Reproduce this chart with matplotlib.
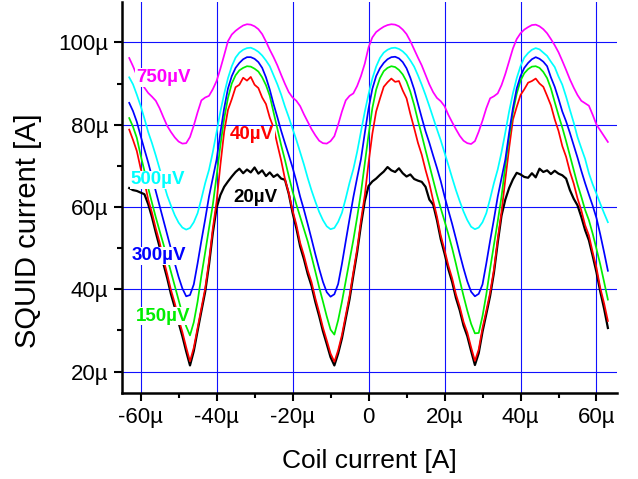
import numpy as np
import matplotlib
matplotlib.use("Agg")
import matplotlib.pyplot as plt
import matplotlib.ticker as mtick

plt.rcParams["font.family"] = ["Liberation Sans", "DejaVu Sans"]

# coil current sweep (uA)
coil_current = np.arange(-63, 64, 1.0)

# SQUID current (uA) for each bias voltage
squid_750 = [
    96.2, 94.2, 92.0, 90.4, 89.0, 87.7, 86.8, 85.8, 84.0, 81.8, 79.7, 78.2, 76.9, 75.9, 75.4, 75.5,
    77.0, 79.8, 83.0, 85.9, 86.6, 87.0, 88.6, 90.6, 93.6, 96.9, 100.3, 101.9, 102.8, 103.5, 104.1, 104.4,
    104.3, 103.9, 103.2, 102.0, 100.2, 98.2, 96.4, 94.4, 92.1, 89.9, 87.9, 86.6, 85.8, 84.5, 82.5, 80.7,
    78.9, 77.4, 76.1, 75.5, 75.4, 76.0, 77.2, 80.0, 83.2, 85.9, 87.0, 87.6, 89.4, 91.8, 94.8, 98.8,
    101.2, 102.5, 103.2, 103.8, 104.2, 104.4, 104.3, 103.9, 103.1, 102.0, 100.3, 98.3, 96.3, 94.4, 92.1, 89.8,
    87.9, 86.5, 85.7, 84.5, 82.4, 80.6, 78.9, 77.3, 76.1, 75.5, 75.3, 76.0, 78.3, 81.0, 84.0, 86.4,
    86.9, 87.6, 89.6, 92.3, 95.4, 98.5, 100.8, 102.2, 103.1, 103.7, 104.2, 104.3, 103.9, 103.2, 102.2, 100.8,
    99.3, 97.6, 95.5, 93.3, 91.0, 89.0, 87.2, 85.8, 85.2, 84.6, 82.4, 80.0, 78.6, 77.2, 75.8,
]
squid_500 = [
    91.5, 89.8, 87.3, 84.6, 81.5, 78.2, 75.5, 72.5, 69.3, 66.0, 62.8, 60.3, 58.0, 56.2, 55.0, 54.5,
    54.9, 56.3, 58.5, 62.0, 65.8, 69.0, 73.3, 78.2, 83.2, 87.5, 91.3, 94.2, 96.3, 97.5, 98.2, 98.6,
    98.7, 98.3, 97.7, 96.8, 95.6, 94.2, 92.0, 89.8, 87.3, 84.4, 81.8, 79.0, 76.3, 73.3, 70.3, 67.0,
    64.0, 61.3, 58.8, 56.8, 55.3, 54.6, 54.9, 56.4, 58.6, 62.1, 65.9, 69.2, 73.4, 78.3, 83.1, 87.4,
    91.2, 94.1, 96.2, 97.5, 98.2, 98.6, 98.7, 98.4, 97.8, 96.9, 95.6, 94.1, 92.0, 89.7, 87.2, 84.5,
    81.7, 78.9, 76.2, 73.2, 70.2, 67.1, 64.1, 61.4, 58.9, 56.8, 55.2, 54.6, 55.0, 56.3, 58.5, 62.0,
    65.8, 69.1, 73.3, 78.1, 83.2, 87.6, 91.3, 94.2, 96.3, 97.4, 98.2, 98.6, 98.3, 97.5, 96.7, 95.3,
    94.0, 91.7, 89.7, 86.8, 83.6, 80.5, 77.0, 74.3, 71.7, 68.2, 65.5, 63.2, 60.8, 58.5, 56.3,
]
squid_300 = [
    85.3, 83.3, 80.7, 77.3, 74.0, 70.8, 67.3, 63.8, 60.3, 56.8, 53.3, 49.8, 46.3, 43.0, 40.2, 38.3,
    38.6, 41.2, 46.3, 51.8, 57.0, 62.5, 67.0, 71.5, 78.0, 84.0, 88.8, 91.8, 93.8, 95.0, 95.9, 96.4,
    96.4, 96.0, 95.2, 93.8, 91.5, 88.5, 85.0, 81.8, 78.5, 75.5, 72.6, 69.6, 66.2, 62.5, 59.3, 55.8,
    52.2, 48.5, 45.0, 41.8, 39.3, 38.2, 38.8, 41.3, 46.2, 51.7, 57.1, 62.4, 67.1, 71.6, 77.9, 83.9,
    88.7, 91.8, 93.7, 95.0, 95.9, 96.4, 96.5, 96.1, 95.2, 93.7, 91.4, 88.6, 85.1, 81.7, 78.4, 75.6,
    72.5, 69.5, 66.3, 62.6, 59.2, 55.9, 52.3, 48.6, 45.1, 41.9, 39.4, 38.3, 38.9, 41.2, 46.3, 51.8,
    57.0, 62.5, 67.0, 71.5, 78.0, 84.0, 88.8, 91.8, 93.8, 95.0, 95.9, 96.4, 96.0, 95.3, 94.2, 91.5,
    89.2, 86.3, 83.2, 80.8, 78.0, 75.0, 72.0, 68.8, 65.8, 63.0, 60.3, 57.3, 53.3, 49.0, 44.5,
]
squid_150 = [
    81.6, 79.5, 76.8, 72.6, 68.8, 64.6, 61.0, 57.5, 54.2, 51.0, 47.6, 44.2, 40.8, 37.4, 34.0, 31.0,
    28.8, 32.0, 37.0, 43.3, 49.0, 54.8, 60.5, 67.5, 75.0, 81.5, 86.5, 90.0, 92.0, 93.2, 93.8, 94.2,
    94.1, 93.6, 92.9, 91.5, 89.6, 87.0, 83.0, 79.0, 75.0, 71.4, 67.5, 63.8, 60.6, 57.6, 54.6, 51.6,
    48.0, 44.3, 40.5, 37.0, 33.4, 30.2, 29.0, 32.5, 37.0, 42.0, 47.0, 52.0, 57.5, 63.5, 70.5, 77.5,
    84.0, 88.5, 91.3, 93.0, 93.8, 94.2, 94.0, 93.3, 92.2, 90.5, 88.0, 84.8, 81.0, 77.5, 73.8, 70.2,
    66.6, 63.0, 59.7, 56.6, 53.4, 50.0, 46.2, 42.2, 38.4, 34.8, 31.6, 29.3, 29.4, 33.5, 38.8, 45.0,
    50.8, 56.5, 62.5, 70.0, 77.0, 83.0, 87.5, 90.7, 92.5, 93.5, 94.1, 94.2, 93.8, 92.8, 91.3, 88.8,
    85.5, 82.3, 79.3, 76.0, 72.5, 69.0, 65.5, 62.5, 59.3, 56.8, 53.5, 49.8, 46.0, 41.8, 37.5,
]
squid_40 = [
    78.8, 76.3, 73.6, 69.4, 66.2, 61.8, 58.6, 54.8, 51.4, 47.3, 43.7, 39.8, 36.6, 32.8, 29.6, 25.9,
    22.5, 25.8, 30.6, 35.4, 40.2, 46.8, 54.7, 61.3, 70.2, 78.3, 83.6, 86.2, 89.1, 89.7, 91.4, 90.7,
    91.6, 89.7, 88.9, 86.6, 85.0, 81.7, 79.3, 75.2, 71.3, 66.8, 63.4, 59.2, 55.7, 51.3, 48.2, 44.6,
    41.7, 37.8, 34.4, 30.7, 27.6, 24.4, 22.4, 25.2, 28.9, 33.7, 38.4, 44.2, 49.8, 56.7, 62.8, 70.7,
    77.8, 83.2, 86.3, 89.2, 90.3, 91.2, 90.4, 90.6, 88.3, 86.4, 82.6, 79.2, 75.6, 72.7, 69.0, 65.7,
    61.6, 57.7, 53.1, 49.6, 45.8, 42.7, 38.8, 35.8, 32.1, 29.5, 25.9, 22.6, 25.4, 30.6, 34.8, 39.2,
    44.8, 52.2, 58.8, 66.7, 74.3, 81.2, 84.3, 87.2, 88.6, 90.2, 90.6, 91.2, 90.0, 89.2, 87.0, 84.7,
    81.3, 78.5, 74.8, 72.2, 68.6, 65.7, 62.1, 59.2, 55.6, 53.1, 49.0, 45.2, 40.3, 36.6, 32.3,
]
squid_20 = [
    64.6, 64.1, 63.9, 63.5, 63.1, 60.7, 57.5, 53.8, 50.3, 46.2, 42.7, 38.8, 35.6, 31.9, 28.6, 24.9,
    21.5, 25.0, 29.9, 34.7, 39.4, 45.9, 53.6, 59.8, 62.9, 64.9, 66.2, 67.4, 68.5, 69.3, 68.2, 69.1,
    68.4, 69.6, 68.1, 68.9, 67.5, 68.4, 67.3, 67.9, 66.9, 66.6, 63.2, 58.6, 54.8, 50.4, 47.3, 43.7,
    40.8, 36.9, 33.5, 29.8, 26.7, 23.5, 21.5, 24.4, 28.1, 32.9, 37.6, 43.4, 49.0, 55.6, 61.4, 65.1,
    66.2, 66.9, 67.8, 68.6, 69.7, 68.9, 68.5, 69.4, 68.2, 67.4, 67.9, 66.8, 66.4, 66.1, 64.9, 61.8,
    60.6, 56.8, 52.2, 48.7, 44.9, 41.8, 37.9, 34.9, 31.2, 28.6, 25.0, 21.6, 24.5, 29.7, 34.0, 38.4,
    44.0, 51.3, 57.9, 61.8, 64.6, 66.7, 68.3, 67.9, 67.3, 67.1, 68.2, 67.2, 69.3, 68.5, 68.9, 68.0,
    68.8, 68.1, 67.7, 66.9, 64.1, 62.0, 60.4, 57.6, 54.4, 51.9, 48.1, 44.1, 39.4, 35.3, 30.6,
]

bias_labels = ["750µV", "500µV", "300µV", "150µV", "40µV", "20µV"]
curve_colors = ["#ff00ff", "#00ffff", "#0000ff", "#00ee00", "#ff0000", "#000000"]
label_x = [-54.1, -55.4, -55.3, -54.1, -30.7, -29.9]
label_y = [91.5, 66.6, 48.1, 33.5, 77.5, 62.2]

all_curves = [squid_750, squid_500, squid_300, squid_150, squid_40, squid_20]


def micro_label(v, pos):
    if abs(v) < 1e-9:
        return "0"
    return "%dµ" % int(round(v))


fig = plt.figure(figsize=(6.38, 4.79), dpi=100)
ax = fig.add_axes([0.1912, 0.1795, 0.7759, 0.8163])

# draw lowest bias first so the higher ones sit on top
for i in range(len(all_curves) - 1, -1, -1):
    lw = 1.6 if i == 5 else 1.25
    ax.plot(coil_current, all_curves[i], color=curve_colors[i], linewidth=lw)

for i in range(len(bias_labels)):
    ax.text(label_x[i], label_y[i], bias_labels[i], color=curve_colors[i], fontsize=13.5,
            fontweight="bold", ha="center", va="center", zorder=5,
            bbox=dict(facecolor="white", edgecolor="none", pad=0.6))

ax.set_xlim(-64.9, 65.4)
ax.set_ylim(14.8, 109.8)

ax.xaxis.set_major_locator(mtick.MultipleLocator(20))
ax.xaxis.set_minor_locator(mtick.MultipleLocator(10))
ax.yaxis.set_major_locator(mtick.FixedLocator([20, 40, 60, 80, 100]))
ax.yaxis.set_minor_locator(mtick.FixedLocator([30, 50, 70, 90]))
ax.xaxis.set_major_formatter(mtick.FuncFormatter(micro_label))
ax.yaxis.set_major_formatter(mtick.FuncFormatter(micro_label))

ax.grid(True, which="major", color="#1010ff", linewidth=0.8)

for side in ["top", "right"]:
    ax.spines[side].set_visible(False)
for side in ["left", "bottom"]:
    ax.spines[side].set_linewidth(1.8)
    ax.spines[side].set_color("black")

ax.tick_params(which="major", direction="out", length=6, width=1.5, labelsize=16, pad=4)
ax.tick_params(which="minor", direction="out", length=3.5, width=1.5)

ax.set_xlabel("Coil current [A]", fontsize=19)
ax.set_ylabel("SQUID current [A]", fontsize=21)
ax.xaxis.label.set_va("center")
ax.yaxis.label.set_va("center")
ax.xaxis.set_label_coords(0.5, -0.174)
ax.yaxis.set_label_coords(-0.19, 0.414)

fig.savefig("out.png", dpi=100)
